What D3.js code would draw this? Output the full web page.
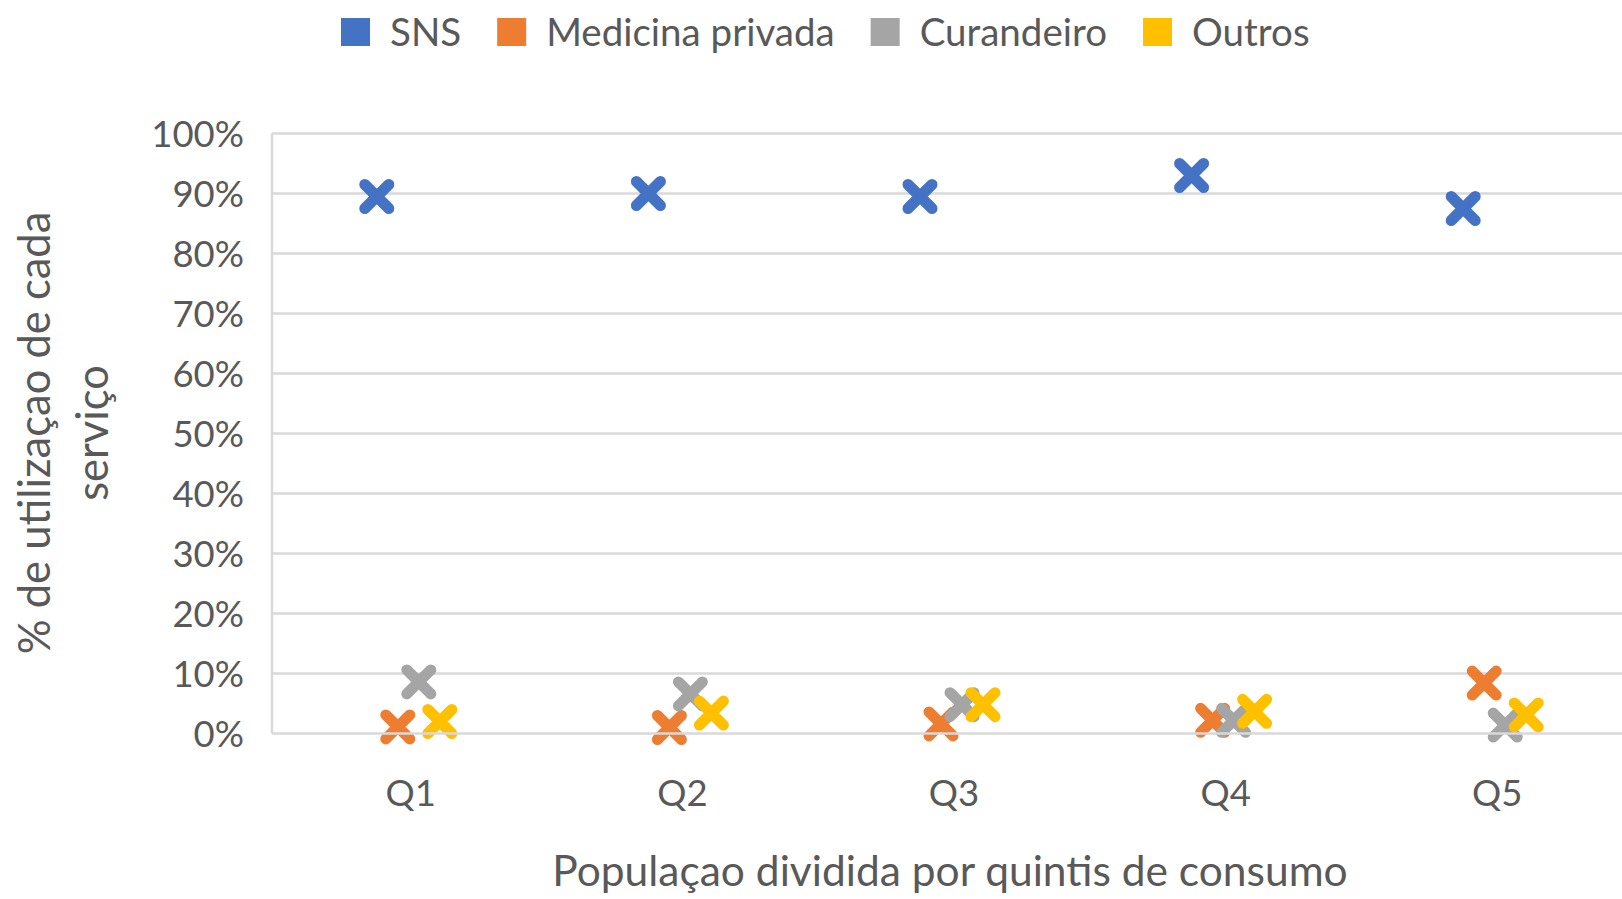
<!DOCTYPE html>
<html>
<head>
<meta charset="utf-8">
<script src="https://cdn.jsdelivr.net/npm/d3@7"></script>
<style>
  html, body { margin: 0; padding: 0; background: #fff; }
  svg text { font-family: Lato, "Open Sans", sans-serif; fill: #595959; }
</style>
</head>
<body>
<svg id="chart" width="1622" height="899"></svg>
<script>
// categories and series (values in %)
var quintis = ['Q1', 'Q2', 'Q3', 'Q4', 'Q5'];
var seriesNames = ['SNS', 'Medicina privada', 'Curandeiro', 'Outros'];
var seriesColors = ['#4472C4', '#ED7D31', '#A5A5A5', '#FFC000'];
var sns = [89.5, 90, 89.5, 93, 87.5];
var medicinaPrivada = [1.1, 1.0, 1.6, 2.2, 8.4];
var curandeiro = [8.6, 6.6, 4.8, 2.2, 1.4];
var outros = [2.0, 3.4, 4.8, 3.7, 3.1];
var yTicks = [0, 10, 20, 30, 40, 50, 60, 70, 80, 90, 100];

var seriesValues = [sns, medicinaPrivada, curandeiro, outros];

var svg = d3.select('#chart');

var margin = { top: 133.5, left: 272, bottom: 733.5, right: 1622 };

var x = d3.scaleBand()
    .domain(quintis)
    .range([275, 1633]);

// horizontal offset of each series inside a quintil
var xSeries = d3.scalePoint()
    .domain(seriesNames)
    .range([-34, 29]);

var y = d3.scaleLinear()
    .domain([0, 100])
    .range([margin.bottom, margin.top]);

// grid lines
svg.append('g')
    .selectAll('line')
    .data(yTicks.filter(function (d) { return d > 0; }))
    .enter()
    .append('line')
    .attr('x1', margin.left)
    .attr('x2', margin.right)
    .attr('y1', function (d) { return y(d); })
    .attr('y2', function (d) { return y(d); })
    .attr('stroke', '#d9d9d9')
    .attr('stroke-width', 2.5);

// left border of plot area
svg.append('line')
    .attr('x1', margin.left)
    .attr('x2', margin.left)
    .attr('y1', y(100))
    .attr('y2', y(0))
    .attr('stroke', '#d9d9d9')
    .attr('stroke-width', 2.5);

// y axis tick labels
var yAxis = d3.axisLeft(y)
    .tickValues(yTicks)
    .tickSize(0)
    .tickPadding(0)
    .tickFormat(function (d) { return d + '%'; });

svg.append('g')
    .attr('transform', 'translate(244,0)')
    .call(yAxis)
    .call(function (g) { g.select('.domain').remove(); })
    .call(function (g) {
        g.selectAll('.tick text')
            .attr('x', 0)
            .attr('dy', '0.36em')
            .style('font-size', '36.5px')
            .style('font-family', 'Lato, sans-serif')
            .attr('fill', '#595959');
    });

// x axis labels
var xAxis = d3.axisBottom(x).tickSize(0).tickPadding(0);
svg.append('g')
    .attr('transform', 'translate(0,793)')
    .call(xAxis)
    .call(function (g) { g.select('.domain').remove(); })
    .call(function (g) {
        g.selectAll('.tick text')
            .attr('y', 0)
            .attr('dy', '0.36em')
            .style('font-size', '36.5px')
            .style('font-family', 'Lato, sans-serif')
            .attr('fill', '#595959');
    });

// markers (X shape)
var arm = 12;
var xMark = 'M' + (-arm) + ',' + (-arm) + 'L' + arm + ',' + arm +
            'M' + (-arm) + ',' + arm + 'L' + arm + ',' + (-arm);

seriesNames.forEach(function (name, i) {
    svg.append('g')
        .selectAll('path')
        .data(seriesValues[i])
        .enter()
        .append('path')
        .attr('d', xMark)
        .attr('transform', function (d, j) {
            var cx = x(quintis[j]) + x.bandwidth() / 2 + xSeries(name);
            return 'translate(' + cx + ',' + y(d) + ')';
        })
        .attr('fill', 'none')
        .attr('stroke', seriesColors[i])
        .attr('stroke-width', 11)
        .attr('stroke-linecap', 'round');
});

// x axis line drawn above the markers
svg.append('line')
    .attr('x1', margin.left)
    .attr('x2', margin.right)
    .attr('y1', y(0))
    .attr('y2', y(0))
    .attr('stroke', '#d9d9d9')
    .attr('stroke-width', 2.5);

// axis titles
svg.append('text')
    .attr('x', 950)
    .attr('y', 871)
    .attr('dy', '0.36em')
    .attr('text-anchor', 'middle')
    .style('font-size', '42.5px')
    .text('Populaçao dividida por quintis de consumo');

var yTitle = svg.append('text')
    .attr('transform', 'translate(34,433) rotate(-90)')
    .attr('text-anchor', 'middle')
    .style('font-size', '43.5px');
yTitle.append('tspan')
    .attr('x', 0)
    .attr('y', 0)
    .attr('dy', '0.36em')
    .text('% de utilizaçao de cada');
yTitle.append('tspan')
    .attr('x', 0)
    .attr('y', 58)
    .attr('dy', '0.36em')
    .text('serviço');

// legend
var legend = svg.append('g').attr('transform', 'translate(341,32)');
var lx = 0;
seriesNames.forEach(function (name, i) {
    var item = legend.append('g').attr('transform', 'translate(' + lx + ',0)');
    item.append('rect')
        .attr('x', 0)
        .attr('y', -14)
        .attr('width', 29)
        .attr('height', 28)
        .attr('fill', seriesColors[i]);
    var t = item.append('text')
        .attr('x', 49)
        .attr('y', 0)
        .attr('dy', '0.36em')
        .style('font-size', '38.5px')
        .text(name);
    lx += 49 + t.node().getComputedTextLength() + 36;
});
</script>
</body>
</html>
